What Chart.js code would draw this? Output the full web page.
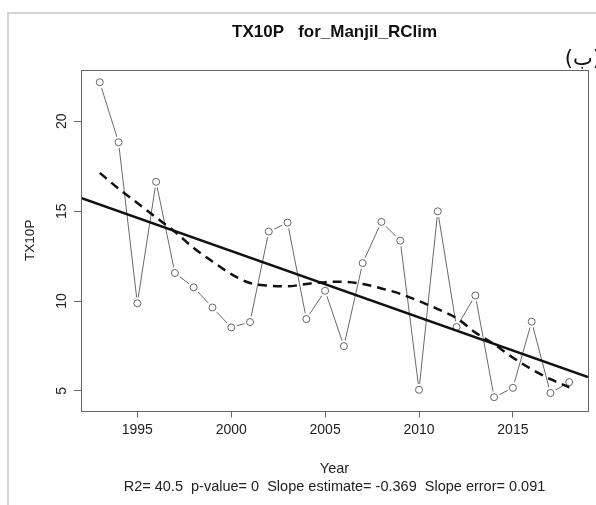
<!DOCTYPE html>
<html><head><meta charset="utf-8">
<script src="https://cdn.jsdelivr.net/npm/chart.js@4/dist/chart.umd.min.js"></script>
<style>
html,body{margin:0;padding:0;background:#fff;}
#wrap{position:relative;width:596px;height:505px;overflow:hidden;background:#fff;}
#frame{position:absolute;left:7px;top:12px;width:600px;height:491px;border-left:2px solid #d4d4d4;border-top:2px solid #d4d4d4;}
#tag{position:absolute;right:-5px;top:46px;font:21px "DejaVu Sans",sans-serif;color:#111;}
canvas{position:absolute;left:0;top:0;}
</style></head><body>
<div id="wrap"><div id="frame"></div><canvas id="c" width="596" height="505"></canvas><div id="tag">(ب)</div></div>
<script>
const years = [1993,1994,1995,1996,1997,1998,1999,2000,2001,2002,2003,2004,2005,2006,2007,2008,2009,2010,2011,2012,2013,2014,2015,2016,2017,2018];
const tx10p = [22.17,18.83,9.87,16.63,11.56,10.76,9.64,8.53,8.83,13.86,14.36,9.0,10.57,7.49,12.11,14.40,13.36,5.06,14.99,8.55,10.31,4.65,5.17,8.85,4.88,5.49];
const loessFit = [17.13,16.25,15.45,14.65,13.85,12.95,12.2,11.5,11.0,10.85,10.82,10.95,11.05,11.07,10.95,10.7,10.4,10.0,9.55,9.05,8.25,7.6,6.85,6.2,5.65,5.2];
const trendYears = [1992, 2019];
const trendValues = [15.73, 5.77];
const xTicks = [1995, 2000, 2005, 2010, 2015];
const yTicks = [5, 10, 15, 20];
const titleText = 'TX10P   for_Manjil_RClim';
const statsText = 'R2= 40.5  p-value= 0  Slope estimate= -0.369  Slope error= 0.091';

const pts = years.map((y, i) => ({x: y, y: tx10p[i]}));
const loessPts = years.map((y, i) => ({x: y, y: loessFit[i]}));
const trendPts = trendYears.map((y, i) => ({x: y, y: trendValues[i]}));

const FONT = '"Liberation Sans", Arial, sans-serif';
const boxPlugin = {
  id: 'box',
  afterDraw(chart) {
    const a = chart.chartArea, c = chart.ctx;
    c.save();
    c.strokeStyle = '#666';
    c.lineWidth = 1;
    c.strokeRect(Math.round(a.left) + 0.5, Math.round(a.top) + 0.5, Math.round(a.right - a.left), Math.round(a.bottom - a.top));
    c.restore();
  }
};

new Chart(document.getElementById('c'), {
  type: 'line',
  data: {
    datasets: [
      {data: pts, showLine: true, borderColor: '#6a6a6a', borderWidth: 1, pointRadius: 0, order: 5},
      {data: pts, showLine: false, pointRadius: 6, pointBackgroundColor: '#fff', pointBorderWidth: 0, pointBorderColor: '#fff', order: 4},
      {data: pts, showLine: false, pointRadius: 3.5, pointBackgroundColor: 'rgba(0,0,0,0)', pointBorderColor: '#666', pointBorderWidth: 1, order: 3},
      {data: loessPts, showLine: true, borderColor: '#111', borderWidth: 2.5, borderDash: [9, 6], pointRadius: 0, tension: 0.4, cubicInterpolationMode: 'monotone', order: 2},
      {data: trendPts, showLine: true, borderColor: '#111', borderWidth: 2.5, pointRadius: 0, order: 1}
    ]
  },
  options: {
    responsive: false,
    animation: false,
    devicePixelRatio: 1,
    events: [],
    layout: {padding: {left: 0, right: 8, top: 0, bottom: 0}},
    plugins: {
      legend: {display: false},
      tooltip: {enabled: false},
      title: {display: true, text: titleText, fullSize: false, color: '#111',
        font: {family: FONT, size: 17, weight: 'bold', lineHeight: 1.2},
        padding: {top: 22, bottom: 27.6}},
      subtitle: {display: true, text: statsText, position: 'bottom', fullSize: false, color: '#222',
        font: {family: FONT, size: 14.5, lineHeight: 1.2}, padding: {top: 0, bottom: 9}}
    },
    scales: {
      x: {
        type: 'linear', min: 1992, max: 2019,
        afterBuildTicks: s => { s.ticks = xTicks.map(v => ({value: v})); },
        afterFit: s => { s.height = 68.1; },
        grid: {display: true, drawOnChartArea: false, drawTicks: true, tickLength: 7, tickColor: '#666'},
        border: {display: false},
        ticks: {color: '#222', font: {family: FONT, size: 14}, padding: 4, maxRotation: 0, callback: v => String(v)},
        title: {display: true, text: 'Year', color: '#222', font: {family: FONT, size: 14.5}, padding: {top: 0, bottom: 1}}
      },
      y: {
        type: 'linear', min: 3.91, max: 22.85,
        afterBuildTicks: s => { s.ticks = yTicks.map(v => ({value: v})); },
        afterFit: s => { s.width = 81; },
        grid: {display: true, drawOnChartArea: false, drawTicks: true, tickLength: 7, tickColor: '#666'},
        border: {display: false},
        ticks: {color: '#222', font: {family: FONT, size: 14}, padding: 4, minRotation: 90, maxRotation: 90, crossAlign: 'center'},
        title: {display: true, text: 'TX10P', color: '#222', font: {family: FONT, size: 13.5}, padding: {top: 22, bottom: 0}}
      }
    }
  },
  plugins: [boxPlugin]
});
</script>
</body></html>
